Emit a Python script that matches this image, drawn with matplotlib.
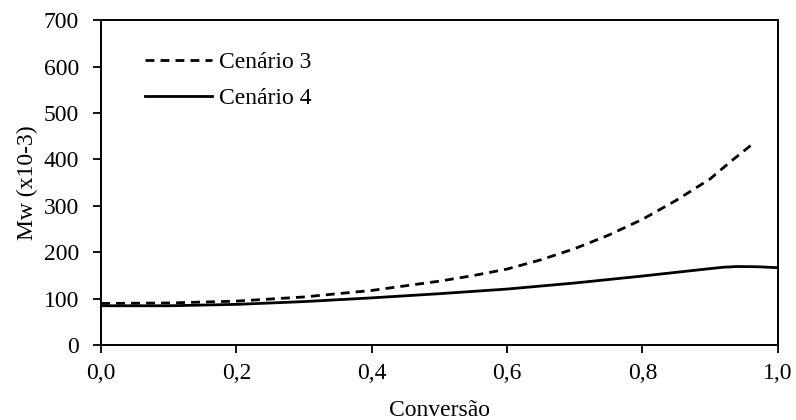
import matplotlib.pyplot as plt

plt.rcParams['font.family'] = ['Liberation Serif', 'DejaVu Serif']
plt.rcParams['font.size'] = 17

# conversão x massa molar média (Mw x10-3)
conv_c3 = [0.0, 0.1, 0.2, 0.3, 0.4, 0.5, 0.55, 0.6, 0.65, 0.7, 0.75, 0.8, 0.85, 0.9, 0.93, 0.966]
mw_c3 = [90, 91, 95, 104, 118, 138, 150, 164, 184, 208, 237, 271, 312, 358, 395, 437]

conv_c4 = [0.0, 0.1, 0.2, 0.3, 0.4, 0.5, 0.6, 0.7, 0.8, 0.85, 0.9, 0.92, 0.94, 0.97, 1.0]
mw_c4 = [85, 85, 88, 94, 102, 111, 121, 134, 149, 157, 165, 168, 169.5, 169, 167]


def main():
    fig, ax = plt.subplots(figsize=(7.96, 4.2), dpi=100)
    fig.subplots_adjust(left=0.127, right=0.977, top=0.952, bottom=0.178)

    ax.plot(conv_c3, mw_c3, color='black', lw=2, ls=(0, (3.2, 2.2)), label='Cenário 3')
    ax.plot(conv_c4, mw_c4, color='black', lw=2, ls='-', label='Cenário 4')

    ax.set_xlim(0, 1)
    ax.set_ylim(0, 700)
    ax.set_xticks([0, 0.2, 0.4, 0.6, 0.8, 1.0])
    ax.set_xticklabels(['0,0', '0,2', '0,4', '0,6', '0,8', '1,0'])
    ax.set_yticks(range(0, 701, 100))
    ax.tick_params(direction='out', length=6, width=1.3, top=False, right=False)
    ax.tick_params(axis='y', pad=10)
    ax.tick_params(axis='x', pad=7)
    for sp in ax.spines.values():
        sp.set_linewidth(1.4)

    ax.set_xlabel('Conversão', labelpad=11)
    ax.set_ylabel('Mw (x10-3)', labelpad=4)

    ax.legend(loc='upper left', bbox_to_anchor=(0.04, 0.955), frameon=False,
              handlelength=2.85, handletextpad=0.3, labelspacing=0.62, borderpad=0.2)

    fig.savefig('out.png', dpi=100)
    plt.close(fig)


if __name__ == "__main__":
    main()
